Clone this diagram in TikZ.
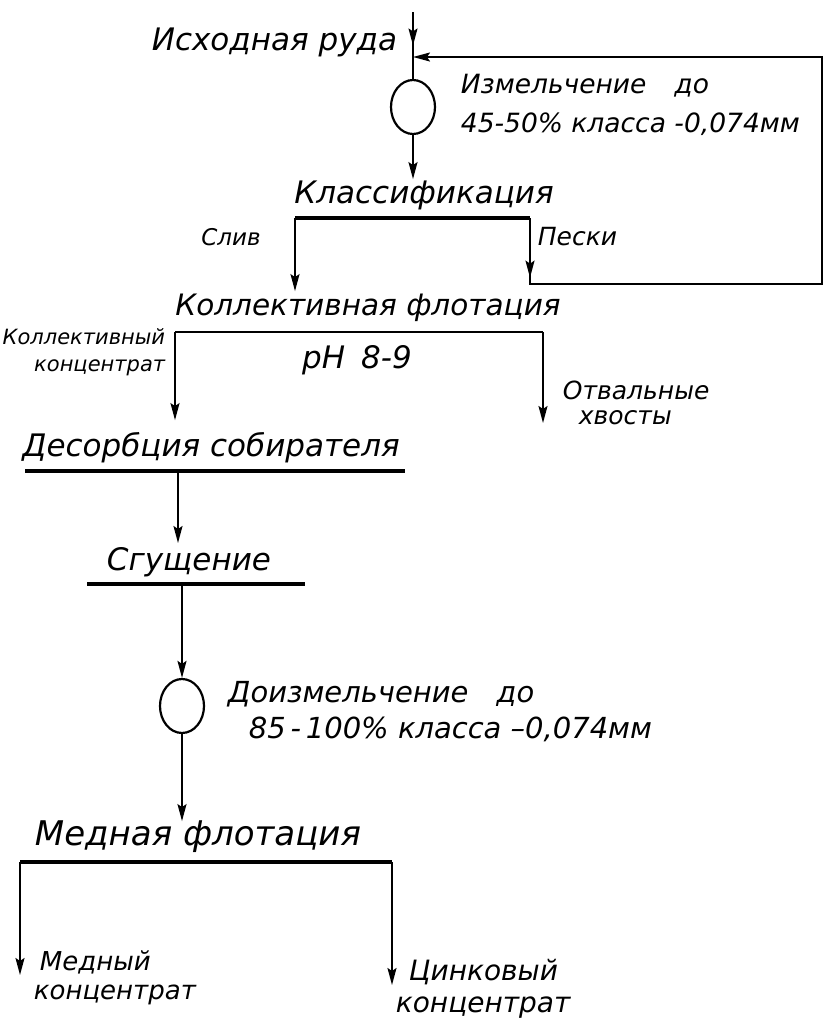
\documentclass[tikz,border=0pt]{standalone}
\usepackage{fontspec}
\setmainfont{DejaVu Sans}
\usetikzlibrary{arrows.meta,shapes.geometric,decorations.markings}

\begin{document}
\begin{tikzpicture}[x=1pt,y=-1pt,>={Stealth[length=17pt,width=9pt,inset=3pt]},line width=1.8pt]
		\tikzstyle{TXT} = [inner sep=0pt, text height=23pt, text depth=7pt]
		\tikzstyle{big} = [TXT, font=\itshape\fontsize{31}{36}\selectfont]
		\tikzstyle{mid} = [inner sep=0pt, font=\itshape\fontsize{26.5}{30}\selectfont]
		\tikzstyle{small} = [inner sep=0pt, font=\itshape\fontsize{21}{27}\selectfont]
		\tikzstyle{mill} = [draw, ellipse, minimum width=44pt, minimum height=54pt, inner sep=0pt, line width=2.2pt]
		\tikzstyle{BAR} = [line width=3.6pt]
		\tikzset{midarrow/.style={postaction={decorate},
				decoration={markings, mark=at position #1 with {\arrow{>}}}
			}
		}

		\useasboundingbox (0,0) rectangle (824,1026);

		% grinding and classification
		\coordinate (src) at 		(413, 12);
		\node[big, anchor=east] (ore) at 	(398, 42) {Исходная руда};
		\node[mill] (millOne) at 	(413, 107) {};
		\node[mid, anchor=west] (grOne) at 	(460, 86) {Измельчение\hspace{28pt}до};
		\node[mid, anchor=west] (grOneB) at 	(460, 124) {45-50\% класса -0,074мм};
		\node[big] (cls) at 		(424, 195) {Классификация};
		\coordinate (clsL) at 		(295, 218);
		\coordinate (clsR) at 		(530, 218);
		\node[small, font=\itshape\fontsize{23}{27}\selectfont] (sliv) at (231, 237) {Слив};
		\node[small, font=\itshape\fontsize{25}{27}\selectfont, anchor=west] (peski) at (537, 237) {Пески};
		\coordinate (fb) at 		(413, 57);
		\coordinate (ret) at 		(822, 284);
		\node[big, font=\itshape\fontsize{29.5}{36}\selectfont] (kfl) at (368, 307) {Коллективная флотация};
		\draw[midarrow=0.5] (src) -- (millOne.north);
		\draw[->] (millOne.south) -- (millOne.south |- cls.north);
		\draw[BAR] (clsL) -- (clsR);
		\draw[->] (clsL) -- (clsL |- kfl.north);
		\draw[->, midarrow=0.06] (clsR) |- (ret) -- (ret |- fb) -- (fb);

		% bulk flotation
		\coordinate (kflL) at 		(175, 332);
		\coordinate (kflR) at 		(543, 332);
		\coordinate (tailsIn) at 	(543, 423);
		\node[small, anchor=east, align=right] (kcon) at (166, 352) {Коллективный\\концентрат};
		\node[mid, font=\itshape\fontsize{31}{36}\selectfont] (ph) at (357, 360) {pH\hspace{16pt}8-9};
		\node[small, font=\itshape\fontsize{25}{25}\selectfont, anchor=west, align=left] (tails) at (562, 403) {Отвальные\\\hspace*{16pt}хвосты};
		\node[big] (des) at 		(211, 448) {Десорбция собирателя};
		\draw (kflL) -- (kflR);
		\draw[->, shorten >=12pt] (kflL) -- (kflL |- des.north);
		\draw[->] (kflR) -- (tailsIn);

		\coordinate (desL) at 		(25, 471);
		\coordinate (desR) at 		(405, 471);
		\coordinate (thkIn) at 		(178, 543);
		\node[big] (thk) at 		(189, 562) {Сгущение};
		\coordinate (thkL) at 		(87, 584);
		\coordinate (thkR) at 		(305, 584);
		\draw[BAR] (desL) -- (desR);
		\draw[->] (thkIn |- desL) -- (thkIn);
		\draw[BAR] (thkL) -- (thkR);

		% regrinding and copper flotation
		\node[mill] (millTwo) at 	(182, 706) {};
		\node[mid, font=\itshape\fontsize{29}{34}\selectfont, anchor=west] (grTwo) at (227, 694) {Доизмельчение\hspace{28pt}до};
		\node[mid, font=\itshape\fontsize{29}{34}\selectfont, anchor=west] (grTwoB) at (248, 729) {85\,-\,100\% класса --0,074мм};
		\node[big, font=\itshape\fontsize{34}{40}\selectfont] (cufl) at (198, 837) {Медная флотация};
		\coordinate (cuL) at 		(20, 862);
		\coordinate (cuR) at 		(392, 862);
		\coordinate (cuIn) at 		(20, 975);
		\coordinate (znIn) at 		(392, 985);
		\node[small, font=\itshape\fontsize{26}{29}\selectfont, anchor=west, align=left] (cucon) at (33, 978) {\hspace*{6pt}Медный\\концентрат};
		\node[small, font=\itshape\fontsize{28}{32}\selectfont, anchor=west, align=left] (zncon) at (395, 989) {\hspace*{13pt}Цинковый\\концентрат};
		\draw[->] (millTwo.north |- thkL) -- (millTwo.north);
		\draw[->] (millTwo.south) -- (millTwo.south |- cufl.north);
		\draw[BAR] (cuL) -- (cuR);
		\draw[->] (cuL) -- (cuIn);
		\draw[->] (cuR) -- (znIn);

\end{tikzpicture}
\end{document}
